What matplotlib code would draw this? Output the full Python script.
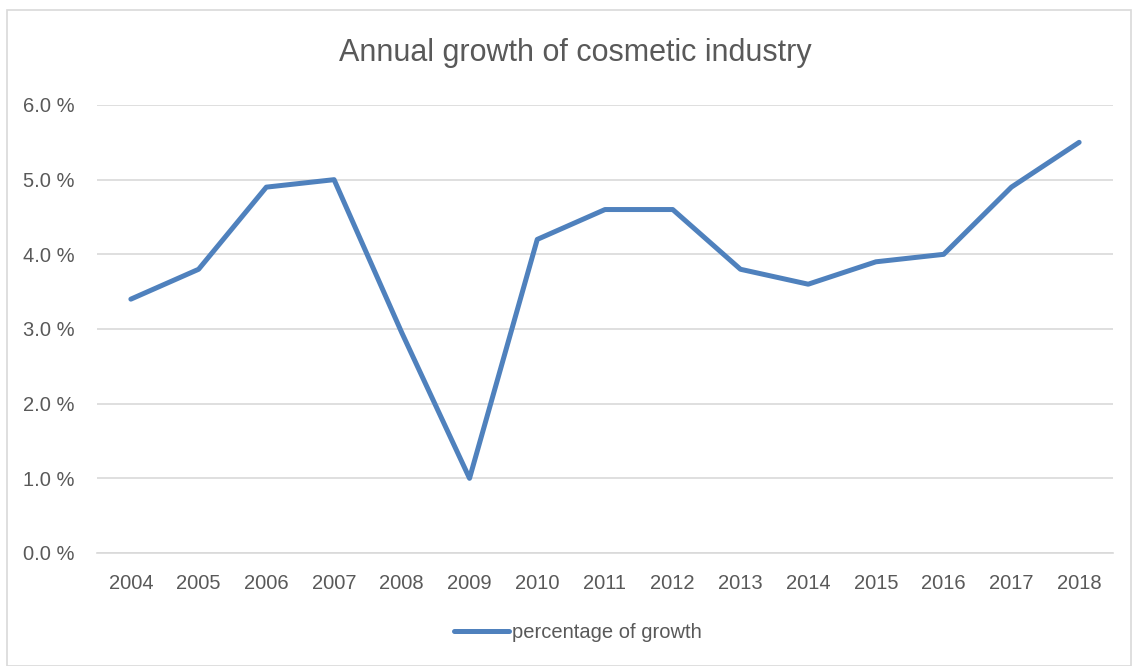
import matplotlib
matplotlib.use("Agg")
import matplotlib.pyplot as plt
from matplotlib.patches import Rectangle
from matplotlib.ticker import FuncFormatter

years = ["2004", "2005", "2006", "2007", "2008", "2009", "2010", "2011",
         "2012", "2013", "2014", "2015", "2016", "2017", "2018"]
growth = [3.4, 3.8, 4.9, 5.0, 2.95, 1.0, 4.2, 4.6, 4.6, 3.8, 3.6, 3.9, 4.0, 4.9, 5.5]

plt.rcParams['font.family'] = ['Liberation Sans', 'DejaVu Sans']
txt = '#595959'
blue = '#4F81BD'

fig = plt.figure(figsize=(11.34, 6.66), dpi=100)
ax = fig.add_axes([97 / 1134, 1 - 553 / 666, (1113 - 97) / 1134, (553 - 105) / 666])

# chart border
fig.add_artist(Rectangle((7 / 1134, 0.0), (1131 - 7) / 1134, 1 - 10 / 666,
                         transform=fig.transFigure, fill=False,
                         edgecolor='#d9d9d9', linewidth=1.2))

x = list(range(len(years)))
ax.plot(x, growth, color=blue, linewidth=3.6, solid_capstyle='round',
        solid_joinstyle='round', label='percentage of growth')

ax.set_xlim(-0.5, len(years) - 0.5)
ax.set_ylim(0, 6)
ax.set_yticks([0, 1, 2, 3, 4, 5, 6])
ax.yaxis.set_major_formatter(FuncFormatter(lambda v, p: f"{v:.1f} %"))
ax.set_xticks(x)
ax.set_xticklabels(years)
ax.grid(axis='y', color='#d9d9d9', linewidth=1.2)
ax.set_axisbelow(True)
for s in ['top', 'right', 'left']:
    ax.spines[s].set_visible(False)
ax.spines['bottom'].set_color('#d9d9d9')
ax.spines['bottom'].set_linewidth(1.2)
ax.tick_params(length=0, labelsize=14.5, colors=txt)
ax.tick_params(axis='x', pad=15)
ax.tick_params(axis='y', pad=16)

fig.text(575 / 1134, 1 - 53 / 666, "Annual growth of cosmetic industry",
         ha='center', va='center', fontsize=22, color=txt)

leg = fig.legend(loc='center', bbox_to_anchor=(578 / 1134, 1 - 633 / 666),
                 frameon=False, fontsize=14.5, handlelength=2.7, handletextpad=0.15)
for t in leg.get_texts():
    t.set_color(txt)

fig.savefig("out.png", dpi=100)
